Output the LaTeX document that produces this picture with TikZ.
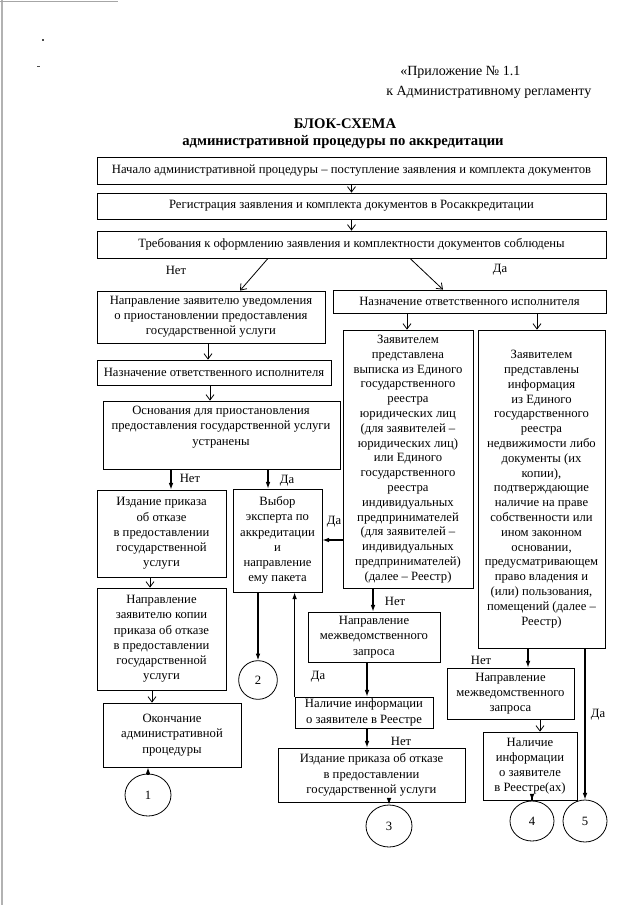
\documentclass[tikz,border=0pt]{standalone}
\usepackage{fontspec}
\setmainfont{Liberation Serif}
\usetikzlibrary{arrows.meta,fit,shapes.geometric}
\begin{document}
\begin{tikzpicture}[x=0.75pt,y=-0.75pt,
  bx/.style={draw, line width=0.6pt, inner sep=0pt, align=center, font=\fontsize{9.5}{11.4}\selectfont},
  txt/.style={inner sep=0pt, align=center, font=\fontsize{9.5}{11.4}\selectfont},
  ztxt/.style={inner sep=0pt, align=center, font=\fontsize{9.5}{11.1}\selectfont},
  lbl/.style={inner sep=0pt, font=\fontsize{9.5}{11.4}\selectfont},
  hdr/.style={inner sep=0pt, font=\fontsize{10.5}{12}\selectfont},
  ttl/.style={inner sep=0pt, font=\fontsize{11}{13}\selectfont\bfseries},
  circ/.style={draw, ellipse, line width=0.6pt, inner sep=0pt, font=\fontsize{9.5}{11.4}\selectfont},
  oarr/.style={line width=0.6pt, -{Straight Barb[length=4pt,width=6pt,line width=0.6pt]}},
  farr/.style={line width=0.8pt, -{Latex[length=5pt,width=3.5pt]}}]
\useasboundingbox (0,0) rectangle (640,905);
% scan artefacts
\draw[gray!60, line width=0.9pt] (2,0) -- (2,905);
\draw[gray!70, line width=0.7pt] (0,1) -- (118,1);
\fill[black!70] (42,39) rectangle (44,41);
\fill[black!70] (37,66) rectangle (40,67.5);
% header
\node[hdr, anchor=west] (h1) at (400,72) {«Приложение № 1.1};
\node[hdr, anchor=west] (h2) at (386,92) {к Административному регламенту};
\node[ttl] (t1) at (345,124) {БЛОК-СХЕМА};
\node[ttl] (t2) at (343,142) {административной процедуры по аккредитации};
% boxes
\node[bx, fit={(97,157)(606,184)}] (b1) {};
\node[txt] (b1t) at (b1.center) {Начало административной процедуры – поступление заявления и комплекта документов};
\node[bx, fit={(97,193)(606,219)}] (b2) {};
\node[txt] (b2t) at (b2.center) {Регистрация заявления и комплекта документов в Росаккредитации};
\node[bx, fit={(97,231)(606,258)}] (b3) {};
\node[txt] (b3t) at (b3.center) {Требования к оформлению заявления и комплектности документов соблюдены};
\node[bx, fit={(97,291)(325,343)}] (L1) {};
\node[txt] (L1t) at (L1.center) {Направление заявителю уведомления\\о приостановлении предоставления\\государственной услуги};
\node[bx, fit={(333,290)(606,313)}] (R1) {};
\node[txt] (R1t) at (R1.center) {Назначение ответственного исполнителя};
\node[bx, fit={(97,360)(331,385)}] (L2) {};
\node[txt] (L2t) at (L2.center) {Назначение ответственного исполнителя};
\node[bx, fit={(103,401)(340,469)}] (osn) {};
\node[txt, anchor=north] (osnt) at (221,406) {Основания для приостановления\\предоставления государственной услуги\\устранены};
\node[bx, fit={(97,490)(226,577)}] (izd) {};
\node[txt] (izdt) at (izd.center) {Издание приказа\\об отказе\\в предоставлении\\государственной\\услуги};
\node[bx, fit={(233,489)(322,592)}] (vyb) {};
\node[txt] (vybt) at (vyb.center) {Выбор\\эксперта по\\аккредитации\\и\\направление\\ему пакета};
\node[bx, fit={(97,588)(226,690)}] (napr) {};
\node[txt] (naprt) at (napr.center) {Направление\\заявителю копии\\приказа об отказе\\в предоставлении\\государственной\\услуги};
\node[bx, fit={(103,703)(241,767)}] (okon) {};
\node[txt] (okont) at (okon.center) {Окончание\\административной\\процедуры};
\node[bx, fit={(343,330)(473,588)}] (z1) {};
\node[ztxt] (z1t) at (z1.center) {Заявителем\\представлена\\выписка из Единого\\государственного\\реестра\\юридических лиц\\(для заявителей –\\юридических лиц)\\или Единого\\государственного\\реестра\\индивидуальных\\предпринимателей\\(для заявителей –\\индивидуальных\\предпринимателей)\\(далее – Реестр)};
\node[bx, fit={(478,330)(605,648)}] (z2) {};
\node[ztxt] (z2t) at (z2.center) {Заявителем\\представлены\\информация\\из Единого\\государственного\\реестра\\недвижимости либо\\документы (их\\копии),\\подтверждающие\\наличие на праве\\собственности или\\ином законном\\основании,\\предусматривающем\\право владения и\\(или) пользования,\\помещений (далее –\\Реестр)};
\node[bx, fit={(308,612)(440,662)}] (nm1) {};
\node[txt] (nm1t) at (nm1.center) {Направление\\межведомственного\\запроса};
\node[bx, fit={(295,697)(433,728)}] (nal1) {};
\node[txt] (nal1t) at (nal1.center) {Наличие информации\\о заявителе в Реестре};
\node[bx, fit={(278,748)(465,802)}] (izd2) {};
\node[txt] (izd2t) at (izd2.center) {Издание приказа об отказе\\в предоставлении\\государственной услуги};
\node[bx, fit={(447,668)(574,719)}] (nm2) {};
\node[txt] (nm2t) at (nm2.center) {Направление\\межведомственного\\запроса};
\node[bx, fit={(483,732)(577,800)}] (nal2) {};
\node[txt] (nal2t) at (nal2.center) {Наличие\\информации\\о заявителе\\в Реестре(ах)};
% circles
\node[circ, minimum width=34.5pt, minimum height=31.5pt] (c1) at (148,795) {1};
\node[circ, minimum width=29pt, minimum height=29pt] (c2) at (258,680) {2};
\node[circ, minimum width=34.5pt, minimum height=31.5pt] (c3) at (389,826) {3};
\node[circ, minimum width=33pt, minimum height=30pt] (c4) at (532,821) {4};
\node[circ, minimum width=33pt, minimum height=31.5pt] (c5) at (585,821) {5};
% arrows
\draw[oarr] (b1.south) -- (b2.north);
\draw[oarr] (b2.south) -- (b3.north);
\draw[oarr] (b3.south -| 268,0) -- (L1.north -| 240,0);
\draw[oarr] (b3.south -| 410,0) -- (R1.north -| 443,0);
\node[lbl] (net1) at (176,270) {Нет};
\node[lbl] (da1) at (500,270) {Да};
\draw[oarr] (L1.south -| 208,0) -- (L2.north -| 208,0);
\draw[oarr] (L2.south -| 210,0) -- (osn.north -| 210,0);
\draw[oarr] (R1.south -| 407,0) -- (z1.north -| 407,0);
\draw[oarr] (R1.south -| 537,0) -- (z2.north -| 537,0);
\draw[farr] (osn.south -| 171,0) -- (izd.north -| 171,0);
\node[lbl] (net2) at (190,478) {Нет};
\draw[farr] (osn.south -| 268,0) -- (vyb.north -| 268,0);
\node[lbl] (da2) at (287,481) {Да};
\draw[oarr] (izd.south -| 150,0) -- (napr.north -| 150,0);
\draw[oarr] (napr.south -| 152,0) -- (okon.north -| 152,0);
\draw[farr] (c1.north) -- (okon.south -| c1.north);
\draw[farr] (vyb.south -| c2.north) -- (c2.north);
\draw[farr] (nal1.north west) -- (vyb.south -| nal1.north west);
\node[lbl] (da3) at (318,677) {Да};
\draw[farr] (z1.west |- 0,540) -- (vyb.east |- 0,540);
\node[lbl] (da4) at (334,522) {Да};
\draw[farr] (z1.south -| 373,0) -- (nm1.north -| 373,0);
\node[lbl] (net3) at (395,601) {Нет};
\draw[farr] (nm1.south -| 367,0) -- (nal1.north -| 367,0);
\draw[farr] (nal1.south -| 367,0) -- (izd2.north -| 367,0);
\node[lbl] (net4) at (401,741) {Нет};
\draw[farr] (izd2.south -| c3.north) -- (c3.north);
\draw[farr] (z2.south -| 528,0) -- (nm2.north -| 528,0);
\node[lbl] (net5) at (481,660) {Нет};
\draw[oarr] (nm2.south -| 540,0) -- (nal2.north -| 540,0);
\draw[farr] (nal2.south -| c4.north) -- (c4.north);
\draw[farr] (z2.south -| c5.north) -- (c5.north);
\node[lbl] (da5) at (598,715) {Да};
\end{tikzpicture}
\end{document}
